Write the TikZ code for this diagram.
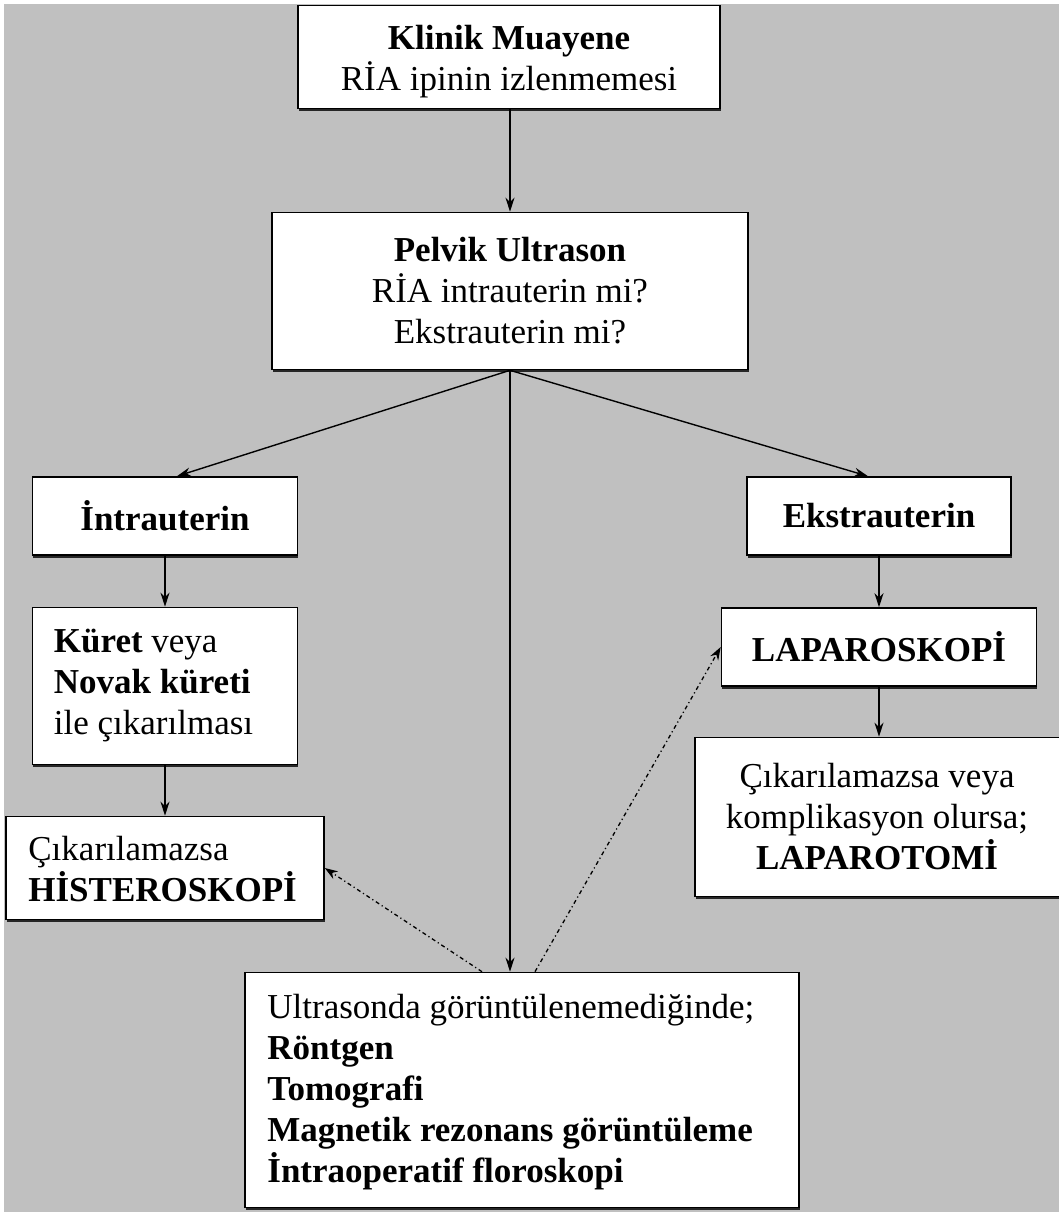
\documentclass[tikz,border=0pt]{standalone}
\usepackage{fontspec}
\setmainfont{Liberation Serif}
\usetikzlibrary{arrows.meta,calc,shadows}
\definecolor{bg}{HTML}{C0C0C0}
\begin{document}
\begin{tikzpicture}[x=1pt,y=-1pt,
  box/.style={draw=black, line width=1.6pt, fill=white, inner sep=0pt, align=center,
    font=\fontsize{35}{41}\selectfont,
    drop shadow={shadow xshift=0.8pt, shadow yshift=-2.5pt, fill=black!85, opacity=1}},
  txt/.style={inner sep=0pt, align=left, anchor=west, font=\fontsize{35}{41}\selectfont},
  ctxt/.style={inner sep=0pt, align=center, font=\fontsize{35}{41}\selectfont},
  arr/.style={line width=1.4pt, -{Stealth[length=14pt,width=9pt]}},
  dotarr/.style={line width=1.3pt, dash pattern=on 4pt off 3pt on 1.2pt off 3pt,
    -{Stealth[length=13pt,width=9pt]}}
]
\fill[white] (0,0) rectangle (1059,1212);
\fill[bg] (4,4) rectangle (1059,1212);
\useasboundingbox (0,0) rectangle (1059,1212);

\node[box, minimum width=422pt, minimum height=103pt] (klinik) at (509,57) {};
\node[ctxt] (klinikt) at ($(klinik.center)+(0,5)$)
  {\textbf{Klinik Muayene}\\RİA ipinin izlenmemesi};
\node[box, minimum width=476pt, minimum height=157pt] (pelvik) at (510,291)
  {\textbf{Pelvik Ultrason}\\RİA intrauterin mi?\\Ekstrauterin mi?};
\node[box, minimum width=265pt, minimum height=78pt] (intra) at (165,516)
  {\textbf{İntrauterin}};
\node[box, minimum width=264pt, minimum height=78pt] (ekstra) at (879,516)
  {\textbf{Ekstrauterin}};
\node[box, minimum width=265pt, minimum height=157pt] (kuret) at (165,686) {};
\node[txt] (kurett) at ($(kuret.west)+(22,0)$)
  {\textbf{Küret} veya\\\textbf{Novak küreti}\\ile çıkarılması};
\node[box, minimum width=318pt, minimum height=103pt] (histero) at (165,868) {};
\node[txt] (historot) at ($(histero.west)+(23,1)$)
  {Çıkarılamazsa\\\textbf{HİSTEROSKOPİ}};
\node[box, minimum width=315pt, minimum height=78pt] (laparo) at (879,647)
  {\textbf{LAPAROSKOPİ}};
\node[box, minimum width=372pt, minimum height=159pt] (cikar) at (881,817) {};
\node[ctxt] (cikart) at (877,817)
  {Çıkarılamazsa veya\\komplikasyon olursa;\\\textbf{LAPAROTOMİ}};
\node[box, minimum width=554pt, minimum height=235pt] (ultra) at (522,1090) {};
\node[txt] (ultrat) at ($(ultra.west)+(23,2)$)
  {Ultrasonda görüntülenemediğinde;\\\textbf{Röntgen}\\\textbf{Tomografi}\\\textbf{Magnetik rezonans görüntüleme}\\\textbf{İntraoperatif floroskopi}};

\draw[arr] (klinik.south -| pelvik.north) -- (pelvik.north);
\draw[arr] (pelvik.south) -- ($(intra.north)+(12,0)$);
\draw[arr] (pelvik.south) -- ($(ekstra.north)+(-11,0)$);
\draw[arr] (pelvik.south) -- (pelvik.south |- ultra.north);
\draw[arr] (intra.south) -- (intra.south |- kuret.north);
\draw[arr] (kuret.south) -- (kuret.south |- histero.north);
\draw[arr] (ekstra.south) -- (ekstra.south |- laparo.north);
\draw[arr] (laparo.south) -- (laparo.south |- cikar.north);
\draw[dotarr] ($(ultra.north)+(-40,0)$) -- (histero.east);
\draw[dotarr] ($(ultra.north)+(13,0)$) -- (laparo.west);
\end{tikzpicture}
\end{document}
